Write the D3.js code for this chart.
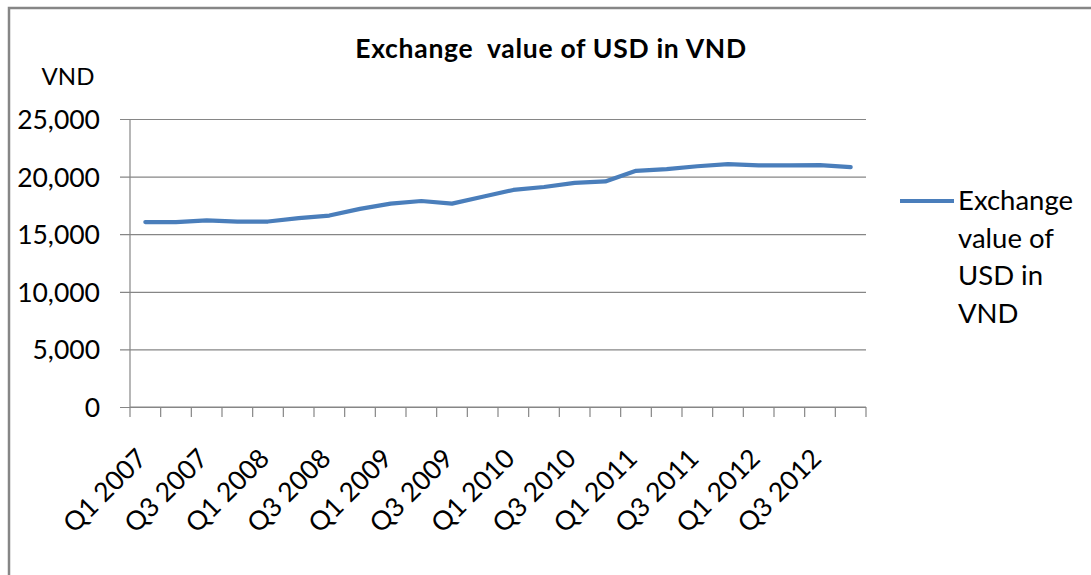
<!DOCTYPE html>
<html><head><meta charset="utf-8">
<script src="https://cdn.jsdelivr.net/npm/d3@7"></script>
<style>
html,body{margin:0;padding:0;background:#fff;}
svg{display:block;}
text{font-family:Lato,"Open Sans",sans-serif;fill:#000;}
</style></head>
<body>
<svg id="chart" width="1091" height="575"></svg>
<script>
const categories = ["Q1 2007","Q2 2007","Q3 2007","Q4 2007","Q1 2008","Q2 2008","Q3 2008","Q4 2008",
  "Q1 2009","Q2 2009","Q3 2009","Q4 2009","Q1 2010","Q2 2010","Q3 2010","Q4 2010",
  "Q1 2011","Q2 2011","Q3 2011","Q4 2011","Q1 2012","Q2 2012","Q3 2012","Q4 2012"];
const values = [16050,16050,16200,16100,16100,16400,16620,17200,17650,17880,17650,18250,
  18840,19100,19450,19580,20500,20650,20900,21080,20980,20980,21000,20830];
const yTicks = [0,5000,10000,15000,20000,25000];
const seriesName = "Exchange value of USD in VND";
const legendLines = ["Exchange","value of","USD in","VND"];
const titleText = "Exchange  value of USD in VND";
const yLabel = "VND";

(function(){
const svg = d3.select("#chart");
const pL = 130, pR = 866, pT = 119, pB = 407;

// chart border
svg.append("rect").attr("x",9).attr("y",8).attr("width",1100).attr("height",600)
  .attr("fill","none").attr("stroke","#868686").attr("stroke-width",2.5);

const x = d3.scaleBand().domain(categories).range([pL,pR]).padding(0);
const y = d3.scaleLinear().domain([0,25000]).range([pB,pT]);

// gridlines + y axis
const yAxis = d3.axisLeft(y).tickValues(yTicks).tickSize(-(pR-pL)).tickPadding(20)
  .tickFormat(d3.format(","));
const gy = svg.append("g").attr("transform",`translate(${pL},0)`).call(yAxis);
gy.select(".domain").remove();
gy.selectAll(".tick line").attr("stroke","#868686").attr("stroke-width",1.2).attr("x1",-10);
gy.selectAll(".tick text").style("font-size","26.5px").attr("x",-30).attr("dy","0.36em");
svg.append("line").attr("x1",pL).attr("x2",pL).attr("y1",pT).attr("y2",pB)
  .attr("stroke","#868686").attr("stroke-width",1.2);

// x axis
const boundaries = d3.range(categories.length+1).map(i => pL + i*x.bandwidth());
const gx = svg.append("g");
gx.append("line").attr("x1",pL).attr("x2",pR).attr("y1",pB).attr("y2",pB)
  .attr("stroke","#868686").attr("stroke-width",1.2);
gx.selectAll("line.tk").data(boundaries).join("line").attr("class","tk")
  .attr("x1",d=>d).attr("x2",d=>d).attr("y1",pB).attr("y2",pB+10)
  .attr("stroke","#868686").attr("stroke-width",1.2);
gx.selectAll("text").data(categories.filter((c,i)=>i%2===0)).join("text")
  .attr("transform",d=>`translate(${x(d)+x.bandwidth()/2+3},${pB+53}) rotate(-45)`)
  .attr("text-anchor","end").style("font-size","26.5px").text(d=>d);

// line
const line = d3.line().x((d,i)=>x(categories[i])+x.bandwidth()/2).y(d=>y(d));
svg.append("path").datum(values).attr("d",line).attr("fill","none")
  .attr("stroke","#4a7ebb").attr("stroke-width",4.2).attr("stroke-linejoin","round").attr("stroke-linecap","round");

// title
svg.append("text").attr("x",551).attr("y",58).attr("text-anchor","middle")
  .style("font-size","26.5px").style("font-weight","bold").style("letter-spacing","0.7px")
  .style("white-space","pre").text(titleText);
svg.append("text").attr("x",68).attr("y",85).attr("text-anchor","middle")
  .style("font-size","24px").text(yLabel);

// legend
const lg = svg.append("g").attr("aria-label",seriesName);
lg.append("line").attr("x1",900).attr("x2",954).attr("y1",201).attr("y2",201)
  .attr("stroke","#4a7ebb").attr("stroke-width",4.2);
lg.selectAll("text").data(legendLines).join("text")
  .attr("x",958).attr("y",(d,i)=>210+i*37.5).style("font-size","27.5px").text(d=>d);
})();
</script>
</body></html>
